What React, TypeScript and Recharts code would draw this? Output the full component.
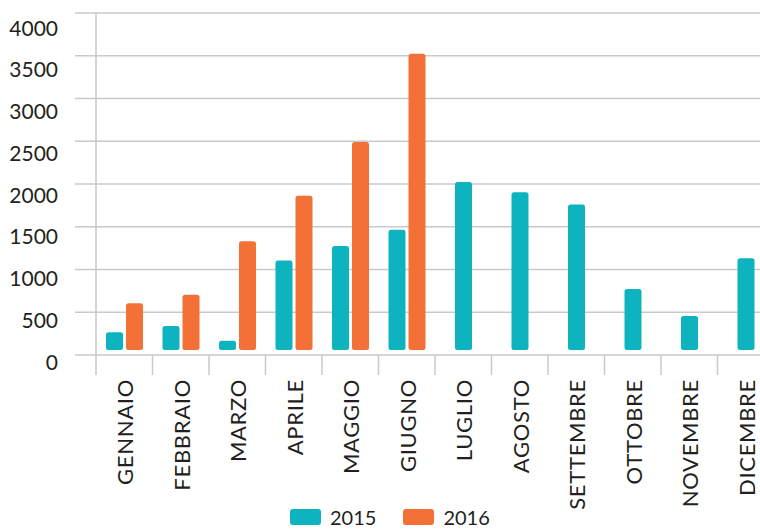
import { BarChart, Bar, XAxis, YAxis, CartesianGrid, Legend } from 'recharts';

const months = [
  'GENNAIO', 'FEBBRAIO', 'MARZO', 'APRILE', 'MAGGIO', 'GIUGNO',
  'LUGLIO', 'AGOSTO', 'SETTEMBRE', 'OTTOBRE', 'NOVEMBRE', 'DICEMBRE',
];
const values2015 = [265, 340, 167, 1105, 1275, 1466, 2023, 1903, 1760, 772, 456, 1131];
const values2016: (number | null)[] = [605, 705, 1330, 1864, 2490, 3524, null, null, null, null, null, null];
const yTicks = [0, 500, 1000, 1500, 2000, 2500, 3000, 3500, 4000];

const data = months.map((m, i) => ({ month: m, y2015: values2015[i], y2016: values2016[i] }));

const TEAL = '#0db4bf';
const ORANGE = '#f37036';
const GRID = '#c9c9cb';
const TEXT = '#231f20';
const FONT = 'Lato, "DejaVu Sans", sans-serif';
const BAR_GAP = 3;
const LIFT = 5;

function makeShape(fill: string, centerWhenAlone: boolean) {
  return (props: any) => {
    const { x, y, width, height, payload } = props;
    if (height == null || height <= 0) return null;
    const shift = centerWhenAlone && payload.y2016 == null ? (width + BAR_GAP) / 2 : 0;
    const h = Math.max(height - LIFT, 0);
    return <rect x={x + shift} y={y} width={width} height={h} rx={2.5} fill={fill} />;
  };
}

const YTick = ({ x, y, payload }: any) => {
  const off = 7 + (8 * payload.value) / 4000;
  return (
    <text x={x} y={y + off} dy="0.36em" textAnchor="end" fill={TEXT} fontSize={21} fontFamily={FONT}>
      {payload.value}
    </text>
  );
};

const XTick = ({ x, y, payload }: any) => {
  const half = payload.offset ?? 28.25;
  return (
    <g>
      <line x1={x - half} y1={y} x2={x - half} y2={y + 20} stroke={GRID} strokeWidth={1.5} />
      <text
        transform={`translate(${x + 1}, ${y + 24}) rotate(-90)`}
        dy="0.36em"
        textAnchor="end"
        fill={TEXT}
        fontSize={22}
        letterSpacing={0.7}
        fontFamily={FONT}
      >
        {payload.value}
      </text>
    </g>
  );
};

const LegendBox = () => (
  <div style={{ height: 24, display: 'flex', alignItems: 'center', paddingLeft: 290, fontFamily: FONT, fontSize: 20, color: TEXT }}>
    <span style={{ width: 31, height: 16, background: TEAL, borderRadius: 3, display: 'inline-block' }} />
    <span style={{ marginLeft: 9, marginRight: 27 }}>2015</span>
    <span style={{ width: 31, height: 16, background: ORANGE, borderRadius: 3, display: 'inline-block' }} />
    <span style={{ marginLeft: 9 }}>2016</span>
  </div>
);

export default function App() {
  return (
    <div style={{ position: 'fixed', top: 0, left: 0, width: 760, height: 529, overflow: 'hidden', background: '#fff' }}>
      <BarChart
        width={800}
        height={529}
        data={data}
        margin={{ top: 13, right: 26, left: 0, bottom: 0 }}
        barSize={17}
        barGap={BAR_GAP}
      >
        <CartesianGrid vertical={false} stroke={GRID} strokeWidth={1.5} />
        <XAxis
          dataKey="month"
          interval={0}
          height={150}
          axisLine={false}
          tickLine={false}
          tickSize={0}
          tickMargin={0}
          tick={<XTick />}
        />
        <YAxis
          width={96}
          domain={[0, 4000]}
          ticks={yTicks}
          interval={0}
          axisLine={{ stroke: GRID, strokeWidth: 1.5 }}
          tickLine={{ stroke: GRID, strokeWidth: 1.5 }}
          tickSize={21}
          tickMargin={17}
          tick={<YTick />}
        />
        <Legend verticalAlign="bottom" content={<LegendBox />} wrapperStyle={{ left: 0, width: 760, bottom: 0 }} />
        <Bar dataKey="y2015" name="2015" fill={TEAL} shape={makeShape(TEAL, true)} isAnimationActive={false} />
        <Bar dataKey="y2016" name="2016" fill={ORANGE} shape={makeShape(ORANGE, false)} isAnimationActive={false} />
      </BarChart>
    </div>
  );
}
